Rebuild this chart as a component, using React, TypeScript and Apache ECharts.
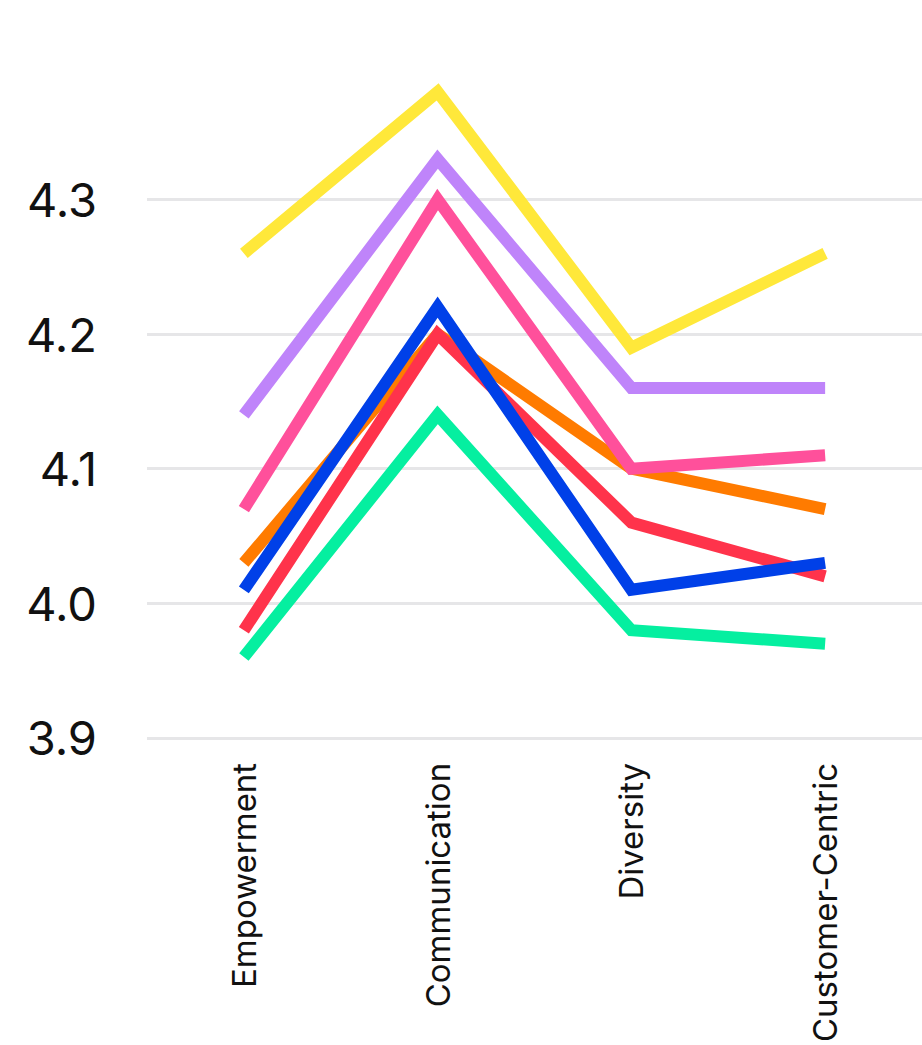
import React, { useEffect, useRef } from "react";
import * as echarts from "echarts";

const categories = ["Empowerment", "Communication", "Diversity", "Customer-Centric"];
const yTicks = [3.9, 4.0, 4.1, 4.2, 4.3];

const yellowVals = [4.26, 4.38, 4.19, 4.26];
const purpleVals = [4.14, 4.33, 4.16, 4.16];
const greenVals = [3.96, 4.14, 3.98, 3.97];
const orangeVals = [4.03, 4.2, 4.1, 4.07];
const pinkVals = [4.07, 4.3, 4.1, 4.11];
const redVals = [3.98, 4.2, 4.06, 4.02];
const blueVals = [4.01, 4.22, 4.01, 4.03];

const seriesDefs = [
  { name: "Yellow", data: yellowVals, color: "#FFE83A" },
  { name: "Purple", data: purpleVals, color: "#BF84FA" },
  { name: "Green", data: greenVals, color: "#05EFA0" },
  { name: "Orange", data: orangeVals, color: "#FF7B00" },
  { name: "Pink", data: pinkVals, color: "#FF509B" },
  { name: "Red", data: redVals, color: "#FF334B" },
  { name: "Blue", data: blueVals, color: "#0040E8" },
];

export default function App() {
  const ref = useRef<HTMLDivElement>(null);
  useEffect(() => {
    if (!ref.current) return;
    const chart = echarts.init(ref.current, null, { renderer: "svg" });
    const grid = "#e6e6e8";
    chart.setOption({
      animation: false,
      grid: { left: 147, right: 0, top: 65, bottom: 307, containLabel: false },
      xAxis: {
        type: "category",
        data: categories,
        boundaryGap: true,
        axisLine: { show: false },
        axisTick: { show: false },
        axisLabel: {
          rotate: 90,
          margin: 25,
          fontSize: 33,
          color: "#111",
          fontFamily: "Inter",
        },
      },
      yAxis: {
        type: "value",
        min: 3.9,
        max: 4.4,
        interval: 0.1,
        axisLine: { show: false },
        axisTick: { show: false },
        axisLabel: {
          margin: 50,
          fontSize: 47,
          color: "#111",
          fontFamily: "Inter",
          formatter: (v: number) => {
            const r = Math.round(v * 10) / 10;
            return yTicks.some((t) => Math.abs(t - r) < 1e-6) ? r.toFixed(1) : "";
          },
        },
        splitLine: {
          show: true,
          lineStyle: {
            width: 3,
            color: [grid, grid, grid, grid, grid, "rgba(0,0,0,0)"],
          },
        },
      },
      series: seriesDefs.map((s) => ({
        type: "line",
        name: s.name,
        data: s.data,
        symbol: "none",
        clip: false,
        lineStyle: { width: 12, color: s.color, cap: "butt", join: "miter" },
        itemStyle: { color: s.color },
      })),
    });
    return () => chart.dispose();
  }, []);
  return (
    <div
      ref={ref}
      style={{ position: "fixed", left: 0, top: 0, width: 922, height: 1045, background: "#fff" }}
    />
  );
}
